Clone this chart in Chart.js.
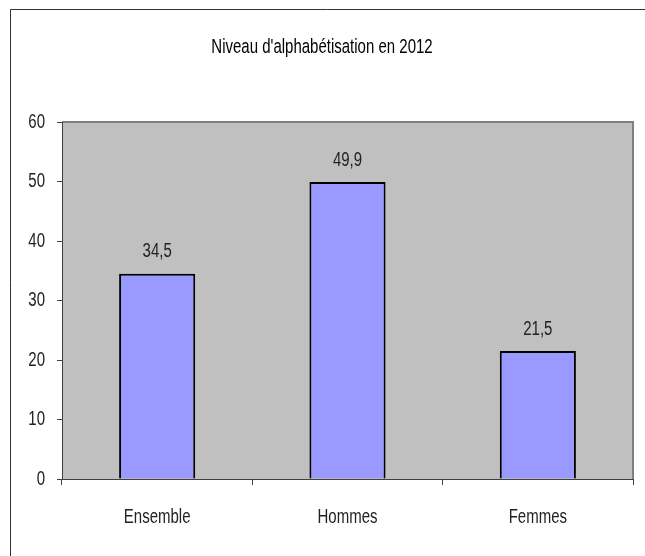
<!DOCTYPE html>
<html>
<head>
<meta charset="utf-8">
<script src="https://cdn.jsdelivr.net/npm/chart.js@4"></script>
<style>
  body { margin: 0; background: #fff; }
  #wrap { width: 645px; height: 556px; }
</style>
</head>
<body>
<div id="wrap"><canvas id="myChart" width="645" height="556"></canvas></div>
<script>
const categories = ['Ensemble', 'Hommes', 'Femmes'];
const values = [34.5, 49.9, 21.5];
const yTicks = [0, 10, 20, 30, 40, 50, 60];
const title = "Niveau d'alphabétisation en 2012";

const fontFamily = "'Liberation Sans', Arial, sans-serif";

// the reference text is tall and narrow, so stretch it vertically
function tallText(c, text, x, y, align) {
    c.save();
    c.translate(x, y);
    c.scale(1, 1.35);
    c.textAlign = align || 'center';
    c.textBaseline = 'middle';
    c.fillText(text, 0, 0);
    c.restore();
}

const decor = {
    id: 'decor',
    beforeDraw(chart) {
        const c = chart.ctx;
        const a = chart.chartArea;
        c.save();
        c.fillStyle = '#fff';
        c.fillRect(0, 0, chart.width, chart.height);
        c.strokeStyle = '#333';
        c.lineWidth = 1;
        c.beginPath();
        c.moveTo(10.5, chart.height);
        c.lineTo(10.5, 9.5);
        c.lineTo(chart.width, 9.5);
        c.stroke();
        c.fillStyle = '#C0C0C0';
        c.fillRect(a.left, a.top, a.right - a.left, a.bottom - a.top);
        c.strokeStyle = '#808080';
        c.lineWidth = 2;
        c.beginPath();
        c.moveTo(a.left, a.top);
        c.lineTo(a.right, a.top);
        c.lineTo(a.right, a.bottom);
        c.stroke();
        c.fillStyle = '#000';
        c.font = '15px ' + fontFamily;
        tallText(c, title, 322, 47);
        c.restore();
    },
    afterDraw(chart) {
        const c = chart.ctx;
        const xs = chart.scales.x;
        const ys = chart.scales.y;
        c.save();
        c.fillStyle = '#222';
        c.font = '15px ' + fontFamily;
        chart.getDatasetMeta(0).data.forEach((bar, i) => {
            tallText(c, values[i].toFixed(1).replace('.', ','), bar.x, bar.y - 22);
        });
        categories.forEach((cat, i) => {
            tallText(c, cat, xs.getPixelForValue(i), xs.top + 38);
        });
        yTicks.forEach(v => {
            tallText(c, String(v), ys.right - 17, ys.getPixelForValue(v), 'right');
        });
        c.restore();
    }
};

const ctx = document.getElementById('myChart').getContext('2d');
const myChart = new Chart(ctx, {
    type: 'bar',
    data: {
        labels: categories,
        datasets: [{
            data: values,
            backgroundColor: '#9999FF',
            borderColor: '#000',
            borderWidth: 2,
            barPercentage: 0.4,
            categoryPercentage: 1
        }]
    },
    options: {
        responsive: false,
        animation: false,
        layout: { padding: { left: 0, top: 122, right: 12, bottom: 37 } },
        plugins: {
            legend: { display: false },
            tooltip: { enabled: false }
        },
        scales: {
            x: {
                afterFit: s => { s.height = 40; },
                grid: { drawOnChartArea: false, tickLength: 6, color: '#404040', offset: true },
                border: { color: '#404040', width: 1 },
                ticks: { display: false }
            },
            y: {
                min: 0,
                max: 60,
                afterFit: s => { s.width = 62; },
                afterBuildTicks: s => { s.ticks = yTicks.map(v => ({ value: v })); },
                grid: { drawOnChartArea: false, tickLength: 5, color: '#404040' },
                border: { color: '#404040', width: 1 },
                ticks: { display: false }
            }
        }
    },
    plugins: [decor]
});
</script>
</body>
</html>
